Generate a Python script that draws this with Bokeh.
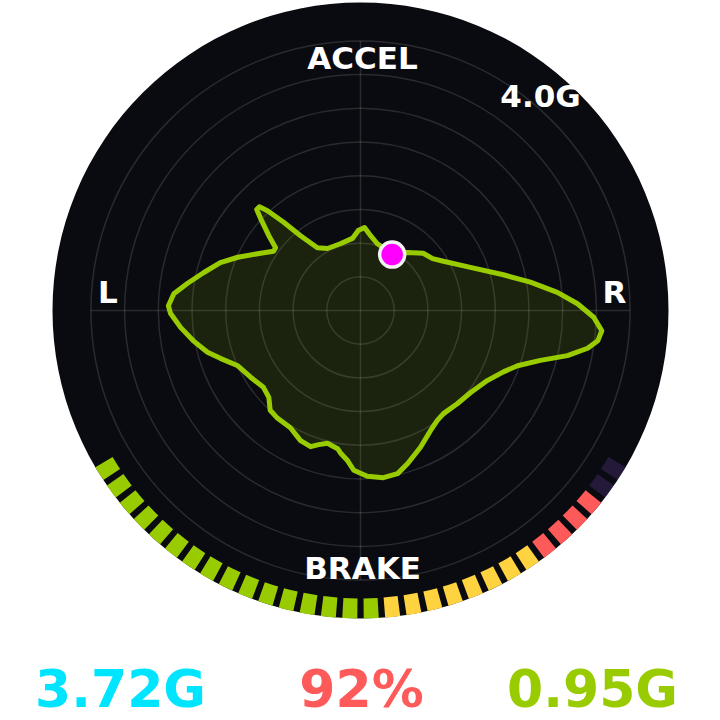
import math
from bokeh.plotting import figure
from bokeh.models import Range1d, ColumnDataSource
from bokeh.core.properties import value
from bokeh.embed import file_html
from bokeh.resources import INLINE

# ---------------- data ----------------
# friction-circle trace (lateral G, longitudinal G)
lat_g = [0.46, 0.70, 0.93, 1.07, 1.23, 1.63, 2.12, 2.52, 2.92, 3.22, 3.46, 3.58,
         3.52, 3.37, 3.07, 2.67, 2.33, 2.12, 1.88, 1.63, 1.44, 1.23, 1.14, 1.04,
         0.89, 0.70, 0.55, 0.34, 0.10, -0.10, -0.19, -0.30, -0.34, -0.49, -0.62,
         -0.74, -0.89, -1.04, -1.23, -1.34, -1.36, -1.44, -1.63, -1.82, -2.08,
         -2.27, -2.48, -2.67, -2.82, -2.85, -2.77, -2.57, -2.33, -2.08, -1.82,
         -1.48, -1.29, -1.26, -1.36, -1.48, -1.54, -1.50, -1.38, -1.14, -0.89,
         -0.64, -0.49, -0.30, -0.12, -0.03, 0.06, 0.15, 0.25, 0.37]
lon_g = [0.85, 0.86, 0.85, 0.77, 0.73, 0.64, 0.53, 0.42, 0.27, 0.10, -0.10, -0.30,
         -0.45, -0.56, -0.67, -0.74, -0.82, -0.91, -1.04, -1.22, -1.38, -1.53,
         -1.63, -1.78, -2.03, -2.27, -2.42, -2.48, -2.46, -2.37, -2.23, -2.11,
         -2.05, -1.97, -1.99, -2.02, -1.93, -1.74, -1.60, -1.48, -1.29, -1.14,
         -0.99, -0.82, -0.71, -0.62, -0.45, -0.25, -0.04, 0.07, 0.25, 0.40, 0.56,
         0.71, 0.79, 0.85, 0.88, 0.93, 1.11, 1.36, 1.50, 1.54, 1.48, 1.31, 1.11,
         0.93, 0.92, 0.99, 1.07, 1.19, 1.23, 1.11, 0.99, 0.91]

current_lat = [0.47]
current_lon = [0.83]

grid_rings_g = [0.5, 1.0, 1.5, 2.0, 2.5, 3.0, 3.5, 4.0]
max_g_label = "4.0G"
axis_labels = ["ACCEL", "BRAKE", "L", "R"]

peak_g = 3.72
brake_pct = 92
current_g = 0.95

n_segments = 30
zone_names = ["green"] * 16 + ["yellow"] * 8 + ["red"] * 4 + ["purple"] * 2

# ---------------- styling ----------------
BG = "#0a0b10"
LIME = "#99cc00"
YELLOW = "#ffd23f"
RED = "#ff5a5a"
PURPLE = "#8f55e8"
CYAN = "#00e5ff"
zone_color = {"green": LIME, "yellow": YELLOW, "red": RED, "purple": PURPLE}
FONT = value("DejaVu Sans")

S = 67.4  # px per G
W = H = 720
CX, CY = 360, 310  # centre of the dial in picture pixels
p = figure(width=W, height=H,
           x_range=Range1d(-CX / S, (W - CX) / S),
           y_range=Range1d((CY - H) / S, CY / S),
           output_backend="svg", toolbar_location=None,
           x_axis_type=None, y_axis_type=None, min_border=0)
p.grid.visible = False
p.outline_line_color = None
p.background_fill_color = "white"
p.border_fill_color = "white"


def gx(px):
    return (px - CX) / S


def gy(py):
    return (CY - py) / S


R_OUT = 308 / S
R_IN = 288 / S
# dark disc
p.circle(x=[0], y=[0], radius=R_OUT, fill_color=BG, line_color=None)

# grid rings and cross
p.circle(x=[0] * len(grid_rings_g), y=[0] * len(grid_rings_g), radius=grid_rings_g,
         fill_color=None, line_color="white", line_alpha=0.13, line_width=1.5)
gmax = max(grid_rings_g)
p.segment(x0=[-gmax, 0], y0=[0, -gmax], x1=[gmax, 0], y1=[0, gmax],
          line_color="white", line_alpha=0.13, line_width=1.5)

# trace
p.patch(lat_g, lon_g, fill_color=LIME, fill_alpha=0.12, line_color=None)
p.line(lat_g + lat_g[:1], lon_g + lon_g[:1], line_color=LIME, line_width=5,
       line_join="round")

# brake bar gauge
lit = round(brake_pct / 100 * n_segments)
centers = [212 + 4 * i for i in range(n_segments)]
seg = ColumnDataSource(dict(
    start=[math.radians(c - 1.4) for c in centers],
    end=[math.radians(c + 1.4) for c in centers],
    color=[zone_color[z] for z in zone_names],
    alpha=[1.0 if i < lit else 0.2 for i in range(n_segments)],
))
p.annular_wedge(x=0, y=0, inner_radius=R_IN, outer_radius=R_OUT,
                start_angle="start", end_angle="end",
                fill_color="color", fill_alpha="alpha", line_color=None, source=seg)

# current point
p.circle(x=current_lat, y=current_lon, radius=12.5 / S, fill_color="#ff00ff",
         line_color="#f2f2f2", line_width=3.5)

# labels
lab = dict(text_font=FONT, text_font_style="bold", text_font_size="31px",
           text_color="white", text_align="center", text_baseline="middle")
p.text(x=[gx(362)], y=[gy(57.5)], text=[axis_labels[0]], **lab)
p.text(x=[gx(362)], y=[gy(567)], text=[axis_labels[1]], **lab)
p.text(x=[gx(107.5)], y=[gy(291)], text=[axis_labels[2]], **lab)
p.text(x=[gx(614)], y=[gy(291)], text=[axis_labels[3]], **lab)
p.text(x=[gx(540)], y=[gy(95.5)], text=[max_g_label], **lab)

# readouts
big = dict(text_font=FONT, text_font_style="bold", text_font_size="52px",
           text_align="center", text_baseline="middle")
ry = gy(688)
p.text(x=[gx(120)], y=[ry], text=[f"{peak_g:.2f}G"], text_color=CYAN, **big)
p.text(x=[gx(361)], y=[ry], text=[f"{brake_pct}%"], text_color=RED, **big)
p.text(x=[gx(592)], y=[ry], text=[f"{current_g:.2f}G"], text_color=LIME, **big)

open("out.html", "w").write(file_html(p, INLINE, title="G-force"))
